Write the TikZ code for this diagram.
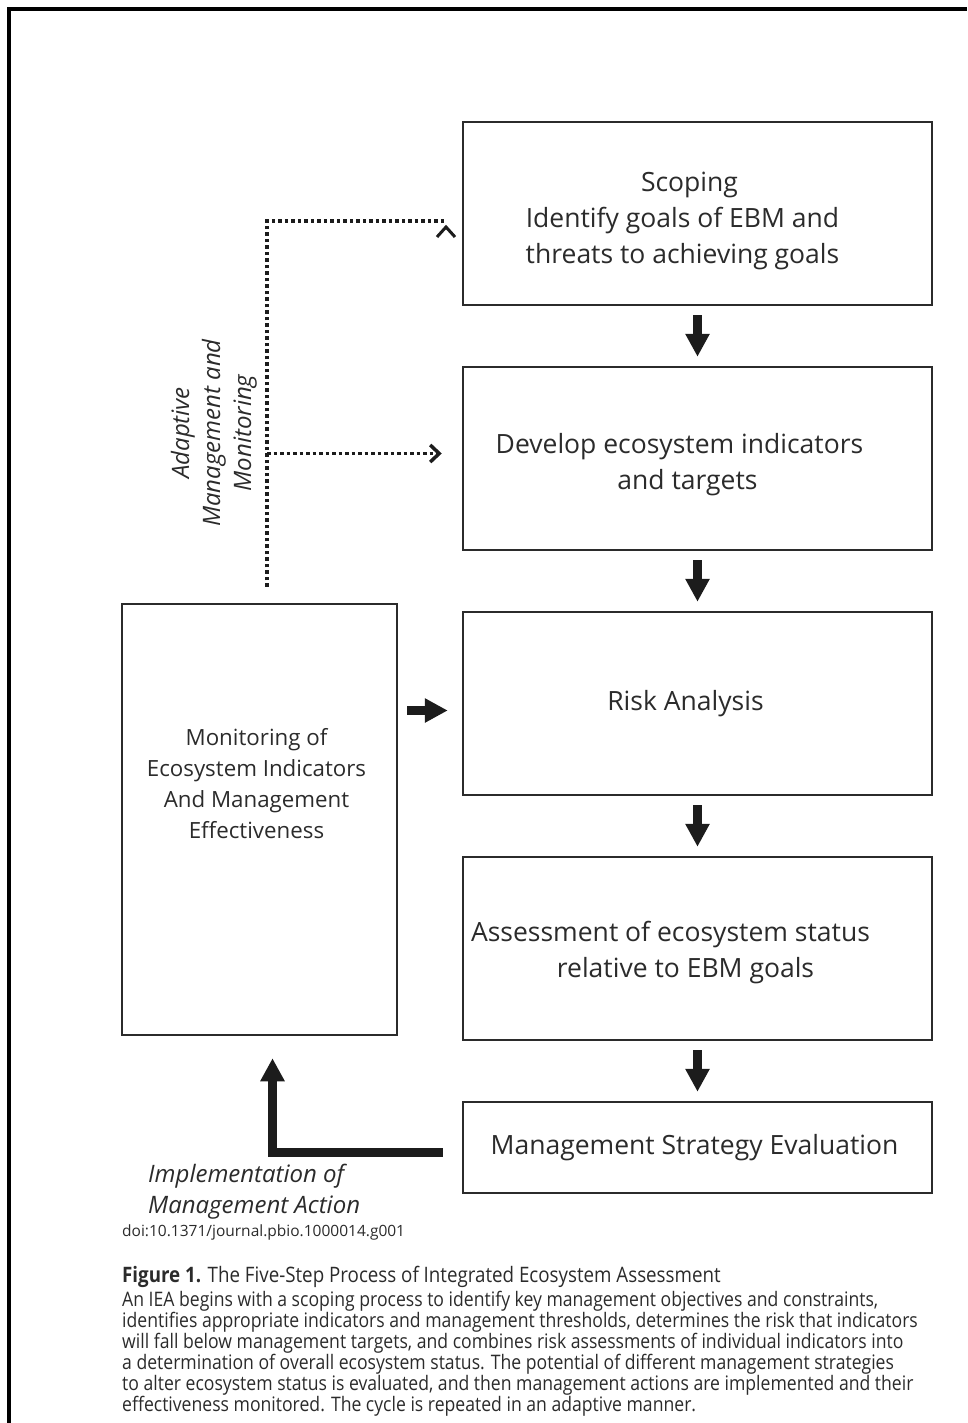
\documentclass[tikz,border=0pt]{standalone}
\usepackage{fontspec}
\setmainfont{Open Sans}
\newfontfamily\capfont[FakeStretch=0.88]{Open Sans}
\usepackage{xcolor}
\usepackage{tikz}
\usetikzlibrary{arrows.meta, positioning}
\definecolor{inkgray}{HTML}{2B2B2B}
\definecolor{arrowblack}{HTML}{1C1C1C}

\begin{document}
\begin{tikzpicture}[
        x=1pt, y=-1pt,
        node distance=59.5pt,
        stepbox/.style={rectangle, draw=inkgray, line width=2.5pt, minimum width=469pt, minimum height=183pt},
        steptext/.style={text=inkgray, align=center, font=\fontsize{26.5}{36}\selectfont},
        bigarrow/.style={draw=arrowblack, line width=9pt, -{Triangle[width=23pt, length=23pt]}},
        feedback/.style={draw=arrowblack, line width=3.5pt, dash pattern=on 3.5pt off 3pt},
        sidetext/.style={text=inkgray, inner sep=0pt, align=center, font=\fontsize{24}{31}\selectfont\itshape}
    ]
    \useasboundingbox (0,0) rectangle (967,1423);
    \draw[line width=4.5pt] (9,1423) -- (9,9) -- (967,9);

    % The five steps
    \node[stepbox, label={[steptext, xshift=-15pt, yshift=-7pt]center:{\hspace*{14pt}Scoping\\Identify goals of EBM and\\threats to achieving goals}}] (scope) at (697.5,213.5) {};
    \node[stepbox, below=of scope, label={[steptext, xshift=-18pt, yshift=-6pt]center:{Develop ecosystem indicators\\\hspace*{16pt}and targets}}] (develop) {};
    \node[stepbox, below=of develop, label={[steptext, xshift=-12pt]center:{Risk Analysis}}] (risk) {};
    \node[stepbox, below=of risk, label={[steptext, xshift=-27pt, yshift=-4pt]center:{Assessment of ecosystem status\\\hspace*{30pt}relative to EBM goals}}] (assess) {};
    \node[stepbox, below=of assess, minimum height=91pt, label={[steptext, xshift=-3pt]center:{Management Strategy Evaluation}}] (mse) {};

    % Monitoring box
    \node[stepbox, minimum width=275pt, minimum height=431pt] (monbox) at (259.5,819.5) {};
    \node[text=inkgray, align=center, font=\fontsize{22.3}{31}\selectfont] (montext) at ([xshift=-3pt, yshift=35.5pt]monbox.center) {Monitoring of\\Ecosystem Indicators\\And Management\\Effectiveness};

    % Step transitions
    \foreach \from/\to in {scope/develop, develop/risk, risk/assess, assess/mse}
        \draw[bigarrow, shorten <=9pt, shorten >=9pt] (\from) -- (\to);

    \coordinate (riskin) at ([yshift=-7pt]risk.west);
    \draw[bigarrow, shorten <=9pt, shorten >=14pt] (riskin -| monbox.east) -- (riskin);

    % Implementation arrow
    \coordinate (implstart) at ([xshift=-19pt, yshift=-4.5pt]mse.west);
    \coordinate (impltip) at ([xshift=13pt, yshift=-22pt]monbox.south);
    \draw[bigarrow, line join=miter] (implstart) -| (impltip);
    \node[sidetext, align=left, anchor=west] (impl) at (148,1192) {Implementation of\\Management Action};

    % Adaptive feedback
    \coordinate (fbstart) at ([xshift=7.5pt, yshift=16pt]monbox.north);
    \draw[feedback] (fbstart) |- (446,221) coordinate (fbend);
    \draw[draw=arrowblack, line width=3pt] (437,237) -- (446,227) -- (455,237);
    \coordinate (devin) at ([yshift=5pt]develop.west);
    \draw[feedback, -{Straight Barb[length=9pt, width=17pt]}, shorten >=20pt] (fbstart |- devin) -- (devin);
    \node[sidetext, rotate=90] (amlabel) at (214,433) {Adaptive\\Management and\\Monitoring};

    % Caption
    \node[anchor=west, inner sep=0pt, text=inkgray, font=\fontsize{15.5}{17}\selectfont] (doi) at (122,1232) {doi:10.1371/journal.pbio.1000014.g001};
    \node[anchor=north west, inner sep=0pt, text=inkgray, font=\capfont\fontsize{21.3}{23}\selectfont] (captitle) at (122,1265.5) {\textbf{Figure 1.} The Five-Step Process of Integrated Ecosystem Assessment};
    \node[anchor=north west, inner sep=0pt, align=left, text=inkgray, font=\capfont\fontsize{20}{21}\selectfont] (caption) at (122,1291) {%
        An IEA begins with a scoping process to identify key management objectives and constraints,\\
        identifies appropriate indicators and management thresholds, determines the risk that indicators\\
        will fall below management targets, and combines risk assessments of individual indicators into\\
        a determination of overall ecosystem status. The potential of different management strategies\\
        to alter ecosystem status is evaluated, and then management actions are implemented and their\\
        effectiveness monitored. The cycle is repeated in an adaptive manner.};
\end{tikzpicture}
\end{document}
